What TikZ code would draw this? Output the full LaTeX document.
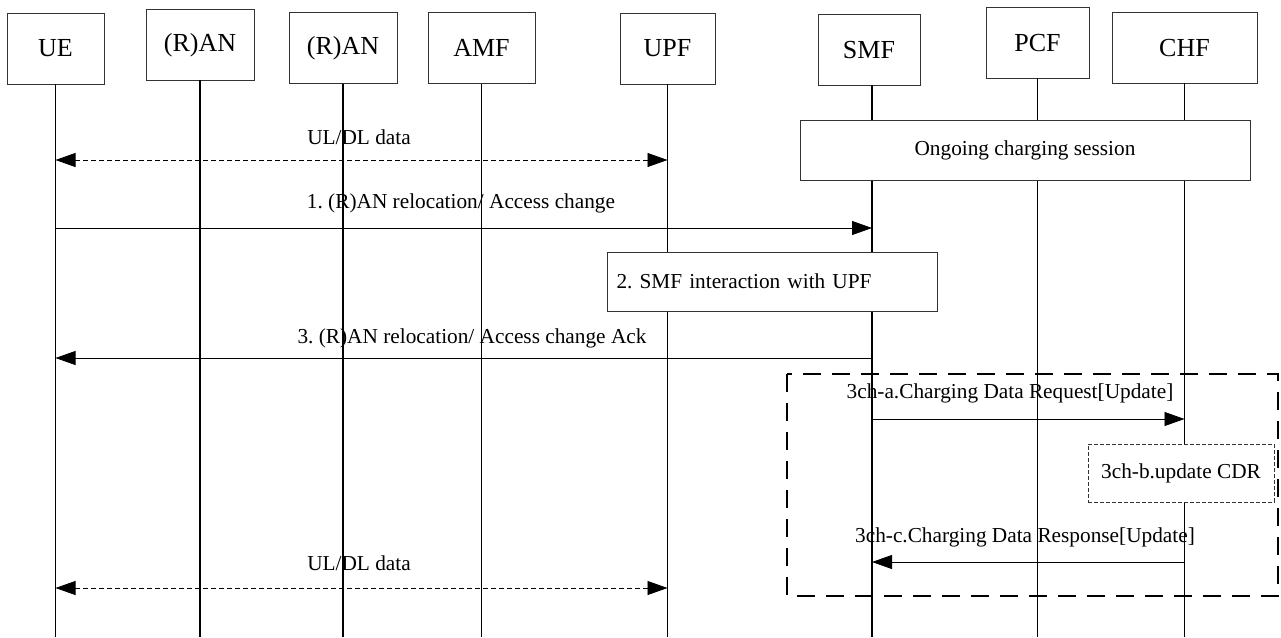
\documentclass[tikz,border=0pt]{standalone}
\usepackage{fontspec}
\setmainfont{Liberation Serif}
\usetikzlibrary{arrows.meta}
\frenchspacing
\begin{document}
\begin{tikzpicture}[x=1pt,y=-1pt,
  hdr/.style={draw=black!80,line width=0.8pt,fill=white,inner sep=0pt,outer sep=0pt,minimum height=71pt,font=\fontsize{26}{30}\selectfont,anchor=north west},
  life/.style={line width=1.5pt},
  msg/.style={line width=0.8pt,-{Triangle[length=20pt,width=14pt]}},
  data/.style={line width=0.8pt,dash pattern=on 5pt off 3pt,{Triangle[length=20pt,width=14pt]}-{Triangle[length=20pt,width=14pt]}},
  lbl/.style={font=\fontsize{21.3}{24}\selectfont,inner sep=0pt},
  procbox/.style={draw=black!80,line width=0.8pt,fill=white,inner sep=0pt,outer sep=0pt,font=\fontsize{21.3}{24}\selectfont,anchor=north west},
  frame/.style={line width=2.8pt,dash pattern=on 18pt off 11pt},
  cdrbox/.style={draw=black!80,line width=0.7pt,dash pattern=on 4pt off 2pt,fill=white,inner sep=0pt,outer sep=0pt,font=\fontsize{21.3}{24}\selectfont,anchor=north west}]
\useasboundingbox (0,0) rectangle (1281,637);
\fill[white] (0,0) rectangle (1281,637);
% header boxes
\node[hdr,minimum width=97pt]  (ue)   at (7,13)     {UE};
\node[hdr,minimum width=108pt] (ran1) at (146,9.3)  {(R)AN};
\node[hdr,minimum width=108pt] (ran2) at (289,12.7) {(R)AN};
\node[hdr,minimum width=107pt] (amf)  at (428,12.7) {AMF};
\node[hdr,minimum width=95pt]  (upf)  at (620,13)   {UPF};
\node[hdr,minimum width=102pt] (smf)  at (818,14.3) {SMF};
\node[hdr,minimum width=103pt] (pcf)  at (986,7.3)  {PCF};
\node[hdr,minimum width=145pt] (chf)  at (1112,12.3){CHF};
\coordinate (bot) at (0,637);
\coordinate (smfl) at ([xshift=3pt]smf.south);
% lifelines
\foreach \n in {ue,ran1,ran2,amf,upf,pcf,chf}
  \draw[life] (\n.south) -- (\n.south |- bot);
\draw[life] (smfl) -- (smfl |- bot);
% levels
\coordinate (yd1) at (0,160);
\coordinate (ym1) at (0,228);
\coordinate (ym3) at (0,358);
\coordinate (ya)  at (0,419);
\coordinate (yc)  at (0,562);
\coordinate (yd2) at (0,588);
% boxes on lifelines
\node[procbox,minimum width=450pt,minimum height=60pt] (ocs) at (800,120) {Ongoing charging session};
\node[procbox,text width=312pt,inner xsep=9pt,minimum height=59pt,align=left] (smfupf) at (607.5,252) {2. SMF interaction with UPF};
\node[cdrbox,minimum width=186pt,minimum height=58pt] (cdr) at (1088,444) {3ch-b.update CDR};
% dashed frame
\draw[frame] (787,374) rectangle (1278,596);
% messages
\draw[data] (ue |- yd1) -- (upf |- yd1);
\draw[msg] (ue |- ym1) -- (smfl |- ym1);
\draw[msg] (smfl |- ym3) -- (ue |- ym3);
\draw[msg] (smfl |- ya) -- (chf |- ya);
\draw[msg] (chf |- yc) -- (smfl |- yc);
\draw[data] (ue |- yd2) -- (upf |- yd2);
% labels
\node[lbl] (l0) at (359,137) {UL/DL data};
\node[lbl] (l1) at (461,203) {1. (R)AN relocation/ Access change};
\node[lbl] (l3) at (472,338) {3. (R)AN relocation/ Access change Ack};
\node[lbl] (la) at (1010,393) {3ch-a.Charging Data Request[Update]};
\node[lbl] (lc) at (1025,537) {3ch-c.Charging Data Response[Update]};
\node[lbl] (l5) at (359,563) {UL/DL data};
\end{tikzpicture}
\end{document}
